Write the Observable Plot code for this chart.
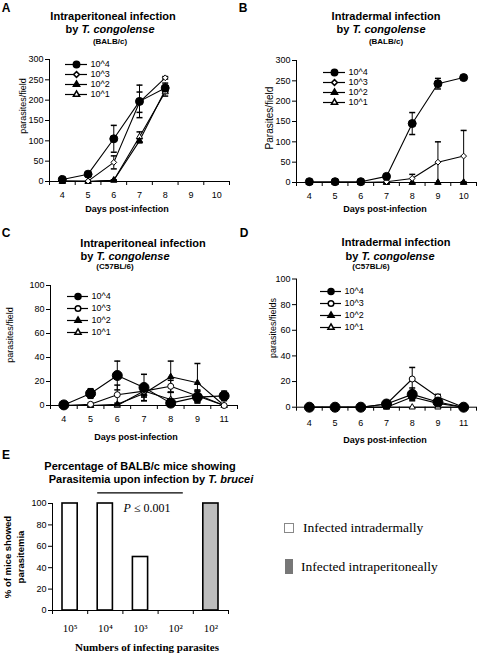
<!DOCTYPE html>
<html><head><meta charset="utf-8">
<script src="https://cdn.jsdelivr.net/npm/d3@7"></script>
<script src="https://cdn.jsdelivr.net/npm/@observablehq/plot@0.6"></script>
<style>
body{margin:0;background:#fff;}
#root{position:relative;width:478px;height:653px;overflow:hidden;font-family:"Liberation Sans",Arial,sans-serif;color:#000;}
.t{position:absolute;white-space:nowrap;transform:translate(-50%,-50%);line-height:1;}
.l{position:absolute;white-space:nowrap;transform:translate(0,-50%);line-height:1;}
.r{position:absolute;white-space:nowrap;transform:translate(-50%,-50%) rotate(-90deg);line-height:1;}
#root svg{position:absolute;overflow:visible;}
</style></head><body><div id="root"></div>
<script>
// ---------- data ----------
const seriesKeys = ["10^4", "10^3", "10^2", "10^1"];
const daysAB = ["4", "5", "6", "7", "8", "9", "10"];
const daysCD = ["4", "5", "6", "7", "8", "9", "11"];

// A: intraperitoneal, BALB/c
const aVal4 = [5, 18, 105, 197, 230, null, null];
const aErr4 = [3, 4, 33, 40, 12, null, null];
const aVal3 = [2, 1, 47, 195, 255, null, null];
const aErr3 = [1, 1, 16, 25, 3, null, null];
const aVal2 = [0, 0, 3, 100, 225, null, null];
const aErr2 = [0, 0, 1, 5, 6, null, null];
const aVal1 = [0, 0, 3, 110, 220, null, null];
const aErr1 = [0, 0, 1, 12, 10, null, null];

// B: intradermal, BALB/c
const bVal4 = [2, 2, 2, 15, 145, 243, 258];
const bErr4 = [0, 0, 0, 3, 27, 13, 3];
const bVal3 = [0, 0, 0, 2, 10, 50, 65];
const bErr3 = [0, 0, 0, 1, 10, 50, 63];
const bVal2 = [0, 0, 0, 0, 0, 0, 0];
const bErr2 = [0, 0, 0, 0, 0, 0, 0];
const bVal1 = [0, 0, 0, 0, 0, 0, 0];
const bErr1 = [0, 0, 0, 0, 0, 0, 0];

// C: intraperitoneal, C57BL/6
const cVal4 = [0.5, 10, 25, 15, 2, 7, 8];
const cErr4 = [0, 4, 12, 11, 3, 5, 4];
const cVal3 = [0, 1, 9, 12, 16, 8, 0];
const cErr3 = [0, 1, 8, 4, 5, 5, 0];
const cVal2 = [0, 0, 1, 10, 24, 19, 0];
const cErr2 = [0, 0, 1, 6, 13, 16, 0];
const cVal1 = [0, 0, 0, 12, 5, 9, 0];
const cErr1 = [0, 0, 0, 5, 6, 3, 0];

// D: intradermal, C57BL/6
const dVal4 = [0, 0, 0, 2.5, 10, 4, 0];
const dErr4 = [0, 0, 0, 1, 5, 3, 0];
const dVal3 = [0, 0, 0, 2.5, 22, 8, 0];
const dErr3 = [0, 0, 0, 1, 9, 2, 0];
const dVal2 = [0, 0, 0, 0, 8, 3, 0];
const dErr2 = [0, 0, 0, 0, 2, 1, 0];
const dVal1 = [0, 0, 0, 0, 0, 0, 0];
const dErr1 = [0, 0, 0, 0, 0, 0, 0];

// E: % of BALB/c mice with parasitemia, T. brucei
const eLabels = ["10\u2075", "10\u2074", "10\u00B3", "10\u00B2", "10\u00B2"];
const eValues = [100, 100, 50, 0, 100];
const eRoute = ["intradermal", "intradermal", "intradermal", "intradermal", "intraperitoneal"];
const eSigFrom = [1];
const eSigTo = [4];
const eSigLevel = [110];

const yTicksBALB = [0, 50, 100, 150, 200, 250, 300];
const yTicksC57 = [0, 20, 40, 60, 80, 100];
const eYTicks = [0, 20, 40, 60, 80, 100];

// ---------- helpers ----------
const root = document.getElementById("root");
const place = (el, left, top) => { el.style.left = left + "px"; el.style.top = top + "px"; root.appendChild(el); };
const cap = {draw(ctx, size) { const r = Math.sqrt(size / Math.PI); ctx.moveTo(-r, 0); ctx.lineTo(r, 0); }};
const baseStyle = {fontFamily: "'Liberation Sans', Arial, sans-serif", fontSize: "9px", background: "transparent", overflow: "visible", color: "black"};

function linePanel(cfg) {
  const n = cfg.days.length;
  const rows = [];
  cfg.series.forEach((s, j) => s.vals.forEach((v, i) => {
    if (v == null) return;
    const e = s.errs[i] || 0;
    rows.push({key: seriesKeys[j], j, x: i + 0.5, v, e, lo: Math.max(0, v - e), hi: v + e});
  }));
  const errRows = rows.filter(d => d.e > 0);
  const marks = [
    Plot.ruleX([0], {stroke: "black"}),
    Plot.ruleY([0], {stroke: "black"}),
    Plot.axisY({ticks: cfg.yTicks, tickSize: 4, tickPadding: 2, fontSize: 9, label: null}),
    Plot.axisX({ticks: d3.range(0, n + 1), tickSize: 4, tickFormat: () => "", label: null}),
    Plot.axisX({ticks: d3.range(n).map(i => i + 0.5), tickSize: 0, tickPadding: cfg.xPad, fontSize: 9,
      tickFormat: d => cfg.days[Math.floor(d)], label: null})
  ];
  for (let j = seriesKeys.length - 1; j >= 0; j--) {
    const r = rows.filter(d => d.j === j);
    marks.push(Plot.line(r, {x: "x", y: "v", stroke: "black", strokeWidth: 1.1}));
  }
  marks.push(Plot.ruleX(errRows, {x: "x", y1: "lo", y2: "hi", stroke: "black", strokeWidth: 1}));
  marks.push(Plot.dot(errRows, {x: "x", y: "hi", symbol: cap, r: 3, fill: "none", stroke: "black"}));
  marks.push(Plot.dot(errRows.filter(d => d.v - d.e > 0), {x: "x", y: "lo", symbol: cap, r: 3, fill: "none", stroke: "black"}));
  for (let j = seriesKeys.length - 1; j >= 0; j--) {
    const r = rows.filter(d => d.j === j);
    marks.push(Plot.dot(r, {x: "x", y: "v", symbol: cfg.symbols[j], r: cfg.radii[j], fill: cfg.fills[j], stroke: "black", strokeWidth: 1}));
  }
  const p = Plot.plot({
    width: cfg.width, height: cfg.height,
    marginLeft: cfg.mL, marginRight: cfg.mR, marginTop: cfg.mT, marginBottom: cfg.mB,
    x: {domain: [0, n]}, y: {domain: cfg.yDomain},
    style: baseStyle, marks
  });
  place(p, cfg.left, cfg.top);
}

function legendPlot(cfg) {
  const p = Plot.plot({
    width: cfg.len + 40, height: 3 * cfg.spacing + 12,
    marginLeft: 0, marginRight: 0, marginTop: 0, marginBottom: 0,
    x: {domain: [0, 1], range: [0, cfg.len], axis: null},
    y: {type: "point", domain: seriesKeys, range: [6, 6 + 3 * cfg.spacing], axis: null},
    style: baseStyle,
    marks: [
      Plot.ruleY(seriesKeys, {y: d => d, x1: 0, x2: 1, stroke: "black", strokeWidth: 1.2}),
      ...seriesKeys.map((k, j) => Plot.dot([k], {x: 0.5, y: d => d, symbol: cfg.symbols[j], r: cfg.radii[j], fill: cfg.fills[j], stroke: "black"})),
      Plot.text(seriesKeys, {x: 1, y: d => d, text: d => d, dx: 3, textAnchor: "start", fontSize: 9, fill: "black"})
    ]
  });
  place(p, cfg.left, cfg.top - 6);
}

const symAB = ["circle", "diamond2", "triangle", "triangle"];
const symCD = ["circle", "circle", "triangle", "triangle"];
const fillsAll = ["black", "white", "black", "white"];
const radAB = [4, 2.6, 2.3, 2.3];
const radCD = [5, 3, 2.3, 2.3];
const radLegend = [3.2, 2.6, 2.3, 2.3];
const radLegendCD = [3, 2.8, 2.3, 2.3];

// ---------- panels A-D ----------
linePanel({left: 0, top: 0, width: 239, height: 200, mL: 49, mR: 10, mT: 59, mB: 19, xPad: 10,
  days: daysAB, yDomain: [0, 300], yTicks: yTicksBALB, symbols: symAB, fills: fillsAll, radii: radAB,
  series: [{vals: aVal4, errs: aErr4}, {vals: aVal3, errs: aErr3}, {vals: aVal2, errs: aErr2}, {vals: aVal1, errs: aErr1}]});
legendPlot({left: 65, top: 58, len: 22, spacing: 13.7, symbols: symAB, fills: fillsAll, radii: radLegend});

linePanel({left: 238, top: 0, width: 240, height: 200, mL: 58, mR: 2, mT: 60, mB: 18, xPad: 10,
  days: daysAB, yDomain: [0, 300], yTicks: yTicksBALB, symbols: symAB, fills: fillsAll, radii: radAB,
  series: [{vals: bVal4, errs: bErr4}, {vals: bVal3, errs: bErr3}, {vals: bVal2, errs: bErr2}, {vals: bVal1, errs: bErr1}]});
legendPlot({left: 323, top: 66.7, len: 22, spacing: 13.5, symbols: symAB, fills: fillsAll, radii: radLegend});

linePanel({left: 0, top: 200, width: 239, height: 230, mL: 50, mR: 2, mT: 85, mB: 25, xPad: 10,
  days: daysCD, yDomain: [0, 100], yTicks: yTicksC57, symbols: symCD, fills: fillsAll, radii: radCD,
  series: [{vals: cVal4, errs: cErr4}, {vals: cVal3, errs: cErr3}, {vals: cVal2, errs: cErr2}, {vals: cVal1, errs: cErr1}]});
legendPlot({left: 67, top: 290, len: 21, spacing: 16, symbols: symCD, fills: fillsAll, radii: radLegendCD});

linePanel({left: 238, top: 200, width: 240, height: 230, mL: 58, mR: 2, mT: 78.5, mB: 23.3, xPad: 12,
  days: daysCD, yDomain: [0, 100], yTicks: yTicksC57, symbols: symCD, fills: fillsAll, radii: radCD,
  series: [{vals: dVal4, errs: dErr4}, {vals: dVal3, errs: dErr3}, {vals: dVal2, errs: dErr2}, {vals: dVal1, errs: dErr1}]});
legendPlot({left: 320, top: 285, len: 21, spacing: 16, symbols: symCD, fills: fillsAll, radii: radLegendCD});

// ---------- panel E ----------
const eRows = eValues.map((v, i) => ({i, v, route: eRoute[i], label: eLabels[i]}));
const eP = Plot.plot({
  width: 260, height: 213, marginLeft: 52, marginRight: 32, marginTop: 63, marginBottom: 43,
  x: {domain: [0, eValues.length]}, y: {domain: [0, 100]},
  style: baseStyle,
  marks: [
    Plot.rect(eRows.filter(d => d.v > 0), {x1: d => d.i, x2: d => d.i + 1, y1: 0, y2: "v", insetLeft: 10, insetRight: 10,
      fill: d => d.route === "intradermal" ? "white" : "#bdbdbd", stroke: "black", strokeWidth: 1.6}),
    Plot.ruleX([0], {stroke: "black"}),
    Plot.ruleY([0], {stroke: "black"}),
    Plot.axisY({ticks: eYTicks, tickSize: 4, tickPadding: 2, fontSize: 9, label: null}),
    Plot.axisX({ticks: d3.range(0, eValues.length + 1), tickSize: 4, tickFormat: () => "", label: null}),
    Plot.axisX({ticks: d3.range(eValues.length).map(i => i + 0.5), tickSize: 0, tickPadding: 14,
      fontSize: 11, fontFamily: "'Liberation Serif', 'Times New Roman', serif",
      tickFormat: d => eLabels[Math.floor(d)], label: null}),
    Plot.ruleY(eSigLevel, {y: d => d, x1: eSigFrom[0], x2: eSigTo[0], insetLeft: 10, insetRight: 10, stroke: "black", strokeWidth: 1.2})
  ]
});
place(eP, 0, 440);

// E legend swatches
const sw1 = document.createElement("div");
sw1.style.cssText = "position:absolute;width:8px;height:8px;border:1px solid #888;background:#fff;";
place(sw1, 284, 523);
const sw2 = document.createElement("div");
sw2.style.cssText = "position:absolute;width:8px;height:15px;background:#777;";
place(sw2, 285, 559);

// ---------- text ----------
const serif = "'Liberation Serif', 'Times New Roman', serif";
const texts = [
  {h: "A", x: 6, y: 8, s: 12, b: 1},
  {h: "Intraperitoneal infection", x: 113, y: 16, s: 11, b: 1},
  {h: "by <i>T. congolense</i>", x: 110, y: 29, s: 11, b: 1},
  {h: "(BALB/c)", x: 110, y: 42, s: 8, b: 1},
  {h: "parasites/field", x: 23, y: 106, s: 9, rot: 1},
  {h: "Days post-infection", x: 127, y: 209, s: 9, b: 1},
  {h: "B", x: 243, y: 8, s: 12, b: 1},
  {h: "Intradermal infection", x: 386, y: 16, s: 11, b: 1},
  {h: "by <i>T. congolense</i>", x: 381, y: 29, s: 11, b: 1},
  {h: "(BALB/c)", x: 386, y: 42, s: 8, b: 1},
  {h: "Parasites/field", x: 270, y: 118, s: 10, rot: 1},
  {h: "Days post-infection", x: 385, y: 209, s: 9, b: 1},
  {h: "C", x: 6, y: 233, s: 12, b: 1},
  {h: "Intraperitoneal infection", x: 143, y: 243, s: 11, b: 1},
  {h: "by <i>T. congolense</i>", x: 125, y: 256, s: 11, b: 1},
  {h: "(C57BL/6)", x: 115, y: 267, s: 8, b: 1},
  {h: "parasites/field", x: 10, y: 335, s: 9, rot: 1},
  {h: "Days post-infection", x: 136, y: 437, s: 9, b: 1},
  {h: "D", x: 244, y: 233, s: 12, b: 1},
  {h: "Intradermal infection", x: 396, y: 242, s: 11, b: 1},
  {h: "by <i>T. congolense</i>", x: 390, y: 256, s: 11, b: 1},
  {h: "(C57BL/6)", x: 371, y: 267, s: 8, b: 1},
  {h: "parasites/fields", x: 273, y: 328, s: 9, rot: 1},
  {h: "Days post-infection", x: 385, y: 440, s: 9, b: 1},
  {h: "E", x: 6, y: 455, s: 12, b: 1},
  {h: "Percentage of BALB/c mice showing", x: 140, y: 466, s: 11, b: 1},
  {h: "Parasitemia upon infection by <i>T. brucei</i>", x: 151, y: 479, s: 11, b: 1},
  {h: "% of mice showed", x: 8, y: 557, s: 9.5, b: 1, rot: 1},
  {h: "parasitemia", x: 21, y: 557, s: 9.5, b: 1, rot: 1},
  {h: "<i>P</i> \u2264 0.001", x: 147, y: 508, s: 12, f: serif},
  {h: "Numbers of infecting parasites", x: 147, y: 647, s: 11, b: 1, f: serif},
  {h: "Infected intradermally", x: 303, y: 528, s: 13.5, f: serif, left: 1},
  {h: "Infected intraperitoneally", x: 301, y: 567, s: 13.5, f: serif, left: 1}
];
texts.forEach(t => {
  const el = document.createElement("div");
  el.className = t.rot ? "r" : (t.left ? "l" : "t");
  el.innerHTML = t.h;
  el.style.fontSize = t.s + "px";
  el.style.fontWeight = t.b ? "bold" : "normal";
  if (t.f) el.style.fontFamily = t.f;
  place(el, t.x, t.y);
});
</script></body></html>
